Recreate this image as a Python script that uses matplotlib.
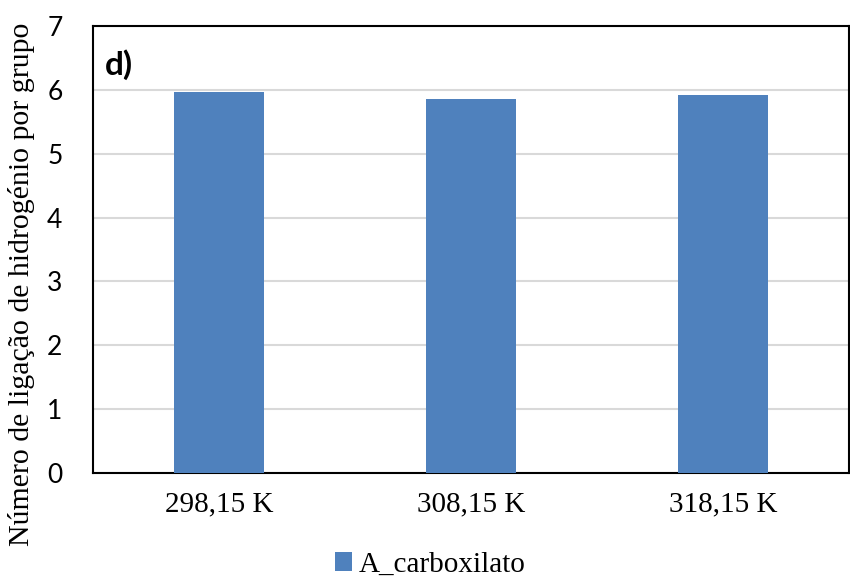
import matplotlib
matplotlib.use("Agg")
import matplotlib.pyplot as plt
import numpy as np

categories = ["298,15 K", "308,15 K", "318,15 K"]
values = [5.97, 5.86, 5.92]
series_name = "A_carboxilato"
yticks = [0, 1, 2, 3, 4, 5, 6, 7]

W, H = 850, 581
fig = plt.figure(figsize=(W / 100, H / 100), dpi=100)
ax = fig.add_axes([93 / W, 1 - 473 / H, (849 - 93) / W, (473 - 26) / H])

x = np.arange(len(categories))
ax.bar(x, values, width=0.357, color="#4f81bd", zorder=3, label=series_name)

ax.set_xlim(-0.5, len(categories) - 0.5)
ax.set_ylim(0, 7)
ax.set_yticks(yticks)
ax.set_yticklabels([str(t) for t in yticks], fontfamily="Lato", fontsize=19)
ax.set_xticks(x)
ax.set_xticklabels(categories, fontfamily="Liberation Serif", fontsize=21)
ax.tick_params(axis="y", length=0, pad=22)
ax.tick_params(axis="x", length=0, pad=13)
ax.yaxis.grid(True, color="#d9d9d9", linewidth=1.5, zorder=0)
ax.set_axisbelow(True)
for s in ax.spines.values():
    s.set_color("black")
    s.set_linewidth(1.5)

ax.text(0.016, 0.913, "d)", transform=ax.transAxes, fontfamily="Lato",
        fontweight="bold", fontsize=24, ha="left", va="center")

fig.text(22 / W, 1 - 284 / H, "Número de ligação de hidrogénio por grupo",
         rotation=90, ha="center", va="center",
         fontfamily="Liberation Serif", fontsize=21.5)

fig.legend(loc="center", bbox_to_anchor=(430 / W, 1 - 565 / H), frameon=False,
           prop={"family": "Liberation Serif", "size": 21},
           handlelength=0.6, handleheight=0.6, handletextpad=0.2)

fig.savefig("out.png", dpi=100)
